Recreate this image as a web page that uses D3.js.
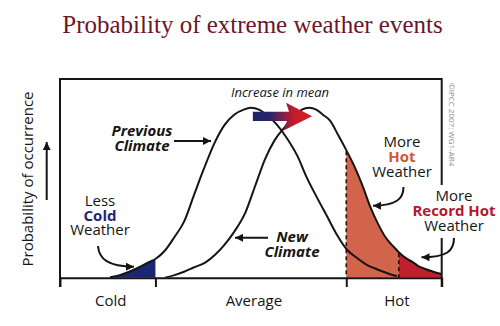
<!DOCTYPE html>
<html>
<head>
<meta charset="utf-8">
<script src="https://cdn.jsdelivr.net/npm/d3@7/dist/d3.min.js"></script>
<style>
  html, body { margin: 0; padding: 0; background: #fff; }
  svg { display: block; }
  text { font-family: "Open Sans", "Noto Sans", sans-serif; }
</style>
</head>
<body>
<svg id="chart" width="500" height="326"></svg>
<script>
// ---------- data ----------
const title = "Probability of extreme weather events";
const yLabel = "Probability of occurrence";
const categories = ["Cold", "Average", "Hot"];
const categoryBounds = [-4, -2, 2, 4];          // temperature (std-dev units)
const categoryCenters = [-3, 0, 3];

// Previous climate distribution (x = temperature, y = relative probability)
const prevX = [-2.95,-2.75,-2.55,-2.35,-2.15,-2.0,-1.8,-1.6,-1.4,-1.2,-1.0,-0.75,-0.55,-0.35,-0.15,0,0.17,0.34,0.55,0.76,0.97,1.18,1.39,1.6,1.81,2.02,2.23,2.44,2.64,2.85,3.06];
const prevY = [0.003,0.015,0.035,0.06,0.09,0.11,0.16,0.24,0.33,0.48,0.63,0.80,0.90,0.96,0.99,1.0,0.99,0.957,0.90,0.82,0.72,0.585,0.47,0.36,0.25,0.163,0.115,0.074,0.05,0.028,0.008];

// New climate distribution
const newX = [-1.8,-1.6,-1.4,-1.2,-0.95,-0.75,-0.55,-0.35,-0.12,0.09,0.3,0.5,0.72,0.93,1.07,1.22,1.37,1.51,1.66,1.83,2.0,2.18,2.33,2.5,2.66,2.83,3.0,3.1,3.25,3.4,3.5,3.67,3.84,4.0];
const newY = [0.0,0.015,0.035,0.06,0.09,0.135,0.195,0.27,0.38,0.54,0.70,0.81,0.89,0.96,0.99,1.0,0.99,0.96,0.925,0.84,0.751,0.65,0.55,0.42,0.32,0.235,0.18,0.15,0.115,0.09,0.07,0.05,0.034,0.022];

const means = [0, 1.22];            // previous mean, new mean
const coldThreshold = -2;
const hotThreshold = 2;
const recordHotThreshold = 3.1;

// ---------- setup ----------
const svg = d3.select("#chart");
const frame = { left: 60, right: 441.7, top: 79, bottom: 277.7 };

const x = d3.scaleLinear().domain([-4, 4]).range([frame.left, frame.right]);
const y = d3.scaleLinear().domain([0, 1.17]).range([frame.bottom, frame.top]);

const prevData = prevX.map((v, i) => ({ x: v, y: prevY[i] }));
const newData = newX.map((v, i) => ({ x: v, y: newY[i] }));

const ink = "#151515";
const colors = {
  title: "#6b1629",
  cold: "#1d2672",
  hot: "#d2644b",
  record: "#c01f2d",
  hotText: "#d4553a",
  recordText: "#b5172b"
};

const defs = svg.append("defs");
defs.append("marker")
  .attr("id", "head")
  .attr("viewBox", "0 0 10 10")
  .attr("refX", 10).attr("refY", 5)
  .attr("markerWidth", 10).attr("markerHeight", 8)
  .attr("markerUnits", "userSpaceOnUse")
  .attr("orient", "auto")
  .append("path").attr("d", "M0,0 L10,5 L0,10 Z").attr("fill", ink);

function clip(id, x0, x1) {
  defs.append("clipPath").attr("id", id)
    .append("rect")
    .attr("x", x(x0)).attr("width", x(x1) - x(x0))
    .attr("y", frame.top).attr("height", frame.bottom - frame.top);
}
clip("clipCold", -4, coldThreshold);
clip("clipHot", hotThreshold, recordHotThreshold);
clip("clipRecord", recordHotThreshold, 4);
clip("clipFrame", -4, 4);

// ---------- title ----------
svg.append("text")
  .attr("x", 252.5).attr("y", 33)
  .attr("text-anchor", "middle")
  .style("font-family", "'Liberation Serif', 'DejaVu Serif', serif")
  .style("font-size", "25px")
  .attr("fill", colors.title)
  .text(title);

// ---------- areas ----------
const area = d3.area().x(d => x(d.x)).y0(y(0)).y1(d => y(d.y)).curve(d3.curveMonotoneX);
const line = d3.line().x(d => x(d.x)).y(d => y(d.y)).curve(d3.curveMonotoneX);

svg.append("path").attr("d", area(prevData)).attr("fill", colors.cold).attr("clip-path", "url(#clipCold)");
svg.append("path").attr("d", area(newData)).attr("fill", colors.hot).attr("clip-path", "url(#clipHot)");
svg.append("path").attr("d", area(newData)).attr("fill", colors.record).attr("clip-path", "url(#clipRecord)");

// ---------- curves ----------
svg.append("path").attr("d", line(prevData)).attr("fill", "none").attr("stroke", ink).attr("stroke-width", 2);
svg.append("path").attr("d", line(newData)).attr("fill", "none").attr("stroke", ink).attr("stroke-width", 2)
  .attr("clip-path", "url(#clipFrame)");

// dashed threshold lines
function heightAt(data, xv) { const p = data.find(d => Math.abs(d.x - xv) < 1e-9); return p ? p.y : 0; }
[hotThreshold, recordHotThreshold].forEach(t => {
  svg.append("line")
    .attr("x1", x(t)).attr("x2", x(t))
    .attr("y1", y(heightAt(newData, t)) + 1).attr("y2", y(0))
    .attr("stroke", "#2a0d0d").attr("stroke-width", 1.6)
    .attr("stroke-dasharray", "4,3");
});

// ---------- frame & axis ----------
const fr = svg.append("g").attr("stroke", ink).attr("stroke-width", 2).attr("fill", "none");
fr.append("line").attr("x1", frame.left).attr("x2", frame.right).attr("y1", frame.top).attr("y2", frame.top);
fr.append("line").attr("x1", frame.left).attr("x2", frame.left).attr("y1", frame.top - 1).attr("y2", 287);
fr.append("line").attr("x1", frame.right).attr("x2", frame.right).attr("y1", frame.top - 1).attr("y2", 185);
fr.append("line").attr("x1", frame.right).attr("x2", frame.right).attr("y1", 238).attr("y2", 287);

const axis = svg.append("g")
  .attr("transform", `translate(0,${frame.bottom})`)
  .call(d3.axisBottom(x).tickValues(categoryBounds).tickSize(9.3).tickSizeOuter(0).tickFormat(""));
axis.selectAll("path, line").attr("stroke", ink).attr("stroke-width", 2);

svg.append("g").selectAll("text").data(categories).join("text")
  .attr("x", (d, i) => x(categoryCenters[i]) + 3)
  .attr("y", 306)
  .attr("text-anchor", "middle")
  .style("font-size", "15px")
  .attr("fill", ink)
  .text(d => d);

// ---------- y label & arrow ----------
svg.append("text")
  .attr("transform", "translate(33,179) rotate(-90)")
  .attr("text-anchor", "middle")
  .style("font-size", "15px")
  .attr("fill", ink)
  .text(yLabel);
svg.append("line")
  .attr("x1", 46.7).attr("x2", 46.7).attr("y1", 200).attr("y2", 142)
  .attr("stroke", ink).attr("stroke-width", 2).attr("marker-end", "url(#head)");

// copyright
svg.append("text")
  .attr("transform", "translate(449,83) rotate(90)")
  .style("font-size", "8px")
  .attr("fill", "#8a8a8a")
  .text("©IPCC 2007: WG1-AR4");

// ---------- increase-in-mean arrow ----------
const ax0 = x(means[0]) + 2, ax1 = x(means[1]) + 3, ay = y(0.95);
const grad = defs.append("linearGradient").attr("id", "meanGrad")
  .attr("gradientUnits", "userSpaceOnUse")
  .attr("x1", ax0).attr("x2", ax1).attr("y1", 0).attr("y2", 0);
grad.append("stop").attr("offset", "0").attr("stop-color", "#1b2468");
grad.append("stop").attr("offset", "0.28").attr("stop-color", "#27256a");
grad.append("stop").attr("offset", "0.72").attr("stop-color", "#cc1a2a");
grad.append("stop").attr("offset", "1").attr("stop-color", "#d01e2c");
svg.append("path")
  .attr("d", `M${ax0},${ay - 4.7} L${ax1 - 23},${ay - 4.7} L${ax1 - 26},${ay - 13.5} L${ax1},${ay}
              L${ax1 - 29},${ay + 14.5} L${ax1 - 25},${ay + 4.7} L${ax0},${ay + 4.7} Z`)
  .attr("fill", "url(#meanGrad)");
svg.append("text")
  .attr("x", 280).attr("y", 97)
  .attr("text-anchor", "middle")
  .style("font-size", "13px").style("font-style", "italic")
  .attr("fill", ink)
  .text("Increase in mean");

// ---------- annotations (one text element per block, lines as tspans) ----------
function multiline(cx, y0, dy, parts) {
  const t = svg.append("text")
    .attr("x", cx).attr("y", y0)
    .attr("text-anchor", "middle")
    .style("font-size", "15px")
    .attr("fill", ink);
  parts.forEach((p, i) => {
    t.append("tspan")
      .attr("x", cx)
      .attr("dy", i === 0 ? 0 : dy)
      .style("font-weight", p.bold ? "bold" : "normal")
      .style("font-style", p.italic ? "italic" : "normal")
      .attr("fill", p.color || ink)
      .text(p.t);
  });
}
multiline(142, 136, 15, [{ t: "Previous", bold: true, italic: true }, { t: "Climate", bold: true, italic: true }]);
svg.append("line").attr("x1", 174).attr("x2", 211).attr("y1", 141).attr("y2", 141)
  .attr("stroke", ink).attr("stroke-width", 2).attr("marker-end", "url(#head)");

multiline(292, 242, 14.5, [{ t: "New", bold: true, italic: true }, { t: "Climate", bold: true, italic: true }]);
svg.append("line").attr("x1", 268).attr("x2", 235).attr("y1", 237.8).attr("y2", 237.8)
  .attr("stroke", ink).attr("stroke-width", 2).attr("marker-end", "url(#head)");

multiline(100, 206, 14.5, [{ t: "Less" }, { t: "Cold", bold: true, color: colors.cold }, { t: "Weather" }]);
svg.append("path").attr("d", "M98,246 C99,259 108,266.5 134,266.8")
  .attr("fill", "none").attr("stroke", ink).attr("stroke-width", 2).attr("marker-end", "url(#head)");

multiline(402, 146.7, 15, [{ t: "More" }, { t: "Hot", bold: true, color: colors.hotText }, { t: "Weather" }]);
svg.append("path").attr("d", "M403.5,187 C403.5,199 396,205.5 373,205.8")
  .attr("fill", "none").attr("stroke", ink).attr("stroke-width", 2).attr("marker-end", "url(#head)");

multiline(454, 200.7, 15, [{ t: "More" }, { t: "Record Hot", bold: true, color: colors.recordText }, { t: "Weather" }]);
svg.append("path").attr("d", "M454,238 C454,251 447,257.3 421.5,257.3")
  .attr("fill", "none").attr("stroke", ink).attr("stroke-width", 2).attr("marker-end", "url(#head)");
</script>
</body>
</html>
